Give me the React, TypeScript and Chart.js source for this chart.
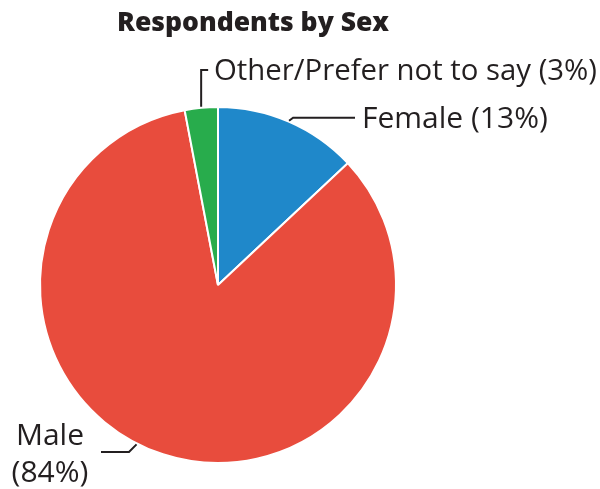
import React, { useEffect, useRef } from 'react';
import { Chart, registerables } from 'chart.js';

Chart.register(...registerables);

const titleText = 'Respondents by Sex';
const categories = ['Female', 'Male', 'Other/Prefer not to say'];
const values = [13, 84, 3];
const percentLabels = ['(13%)', '(84%)', '(3%)'];
const colors = ['#1f88ca', '#e84c3d', '#28ac4c'];

const TEXT = '#231f20';
const FONT = '"Open Sans", "DejaVu Sans", sans-serif';

const labelPlugin = {
  id: 'pieLabels',
  afterDraw(chart: any) {
    const ctx = chart.ctx;
    const meta = chart.getDatasetMeta(0);
    ctx.save();
    // title
    ctx.fillStyle = TEXT;
    ctx.font = `800 26.5px ${FONT}`;
    ctx.textAlign = 'center';
    ctx.textBaseline = 'alphabetic';
    ctx.fillText(titleText, 253, 31);

    ctx.strokeStyle = TEXT;
    ctx.lineWidth = 2;
    ctx.font = `30px ${FONT}`;

    const pointAt = (arc: any, frac: number) => {
      const a = arc.startAngle + (arc.endAngle - arc.startAngle) * frac;
      const r = arc.outerRadius + 1;
      return { x: arc.x + r * Math.cos(a), y: arc.y + r * Math.sin(a) };
    };

    // Female
    const f = meta.data[0];
    const pf = pointAt(f, 0.5);
    ctx.beginPath();
    ctx.moveTo(pf.x, pf.y);
    ctx.lineTo(pf.x + 4, pf.y - 3);
    ctx.lineTo(355, pf.y - 3);
    ctx.stroke();
    ctx.textAlign = 'left';
    ctx.fillText(`${categories[0]} ${percentLabels[0]}`, 362, 128, 186);

    // Other
    const o = meta.data[2];
    const po = pointAt(o, 0.5);
    ctx.beginPath();
    ctx.moveTo(po.x, po.y);
    ctx.lineTo(po.x, 70);
    ctx.lineTo(po.x + 7, 70);
    ctx.stroke();
    ctx.fillText(`${categories[2]} ${percentLabels[2]}`, 214, 80, 383);

    // Male
    const m = meta.data[1];
    const pm = pointAt(m, 0.53);
    ctx.beginPath();
    ctx.moveTo(pm.x, pm.y);
    ctx.lineTo(129, 452);
    ctx.lineTo(101, 452);
    ctx.stroke();
    ctx.textAlign = 'center';
    ctx.fillText(categories[1], 50, 445);
    ctx.fillText(percentLabels[1], 50, 482);
    ctx.restore();
  },
};

export default function App() {
  const ref = useRef<HTMLCanvasElement>(null);
  useEffect(() => {
    if (!ref.current) return;
    const chart = new Chart(ref.current, {
      type: 'pie',
      data: {
        labels: categories,
        datasets: [
          {
            data: values,
            backgroundColor: colors,
            borderColor: '#ffffff',
            borderWidth: 2,
          },
        ],
      },
      options: {
        animation: false,
        responsive: true,
        maintainAspectRatio: false,
        layout: { padding: { top: 106, bottom: 25, left: 39, right: 203 } },
        plugins: {
          legend: { display: false },
          title: { display: false },
          tooltip: { enabled: false },
        },
      },
      plugins: [labelPlugin],
    });
    return () => chart.destroy();
  }, []);
  return (
    <div style={{ position: 'absolute', left: 0, top: 0, width: 600, height: 489, background: '#fff' }}>
      <canvas ref={ref} />
    </div>
  );
}
